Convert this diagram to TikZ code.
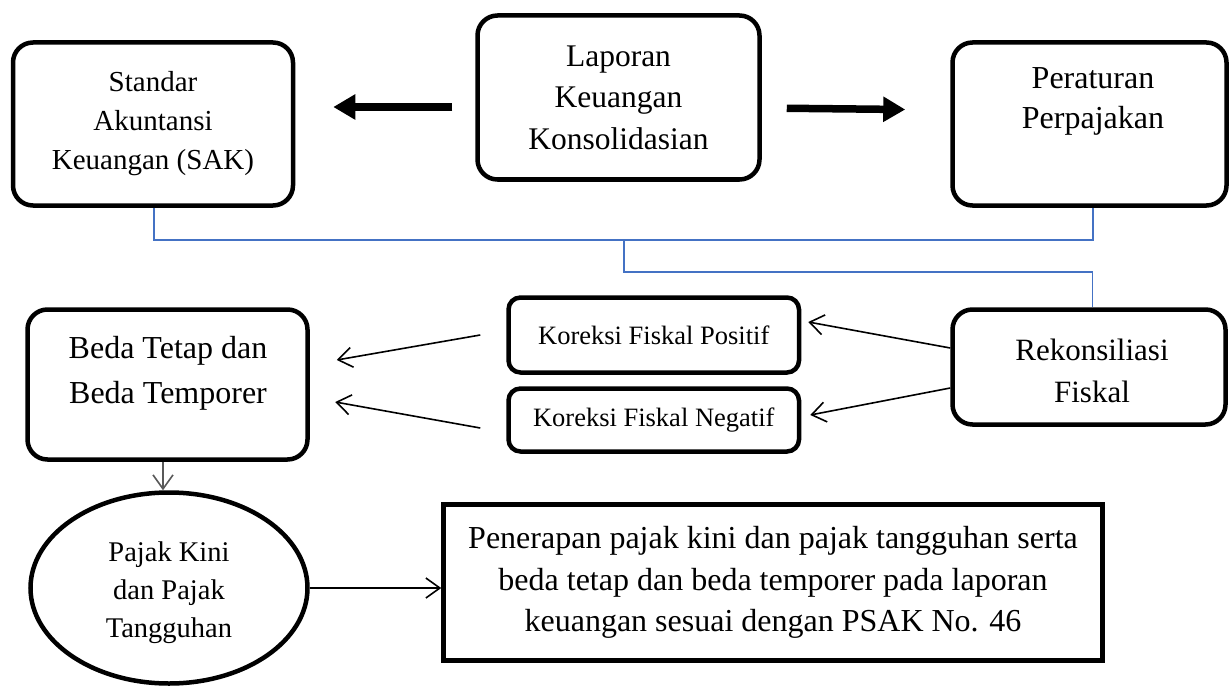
\documentclass[tikz,border=0pt]{standalone}
\usepackage{fontspec}
\setmainfont{Liberation Serif}
\usetikzlibrary{arrows.meta,shapes.geometric}
\definecolor{busB}{RGB}{68,114,196}

\begin{document}
\begin{tikzpicture}[x=1pt,y=-1pt,
  box/.style={draw,line width=4.5pt,rounded corners=20pt,inner sep=0pt,align=center},
  txt/.style={align=center,inner sep=0pt},
  bigarr/.style={line width=7.5pt,-{Triangle[length=22pt,width=24pt]}},
  thinarr/.style={line width=1.6pt,-{Straight Barb[length=14pt,width=20pt]}},
  bus/.style={busB,line width=1.8pt}]
\useasboundingbox (0,0) rectangle (1230,687);
% top row
\node[box,minimum width=280pt,minimum height=163pt,font=\fontsize{29}{39}\selectfont] (sak) at (153,124) {Standar\\Akuntansi\\Keuangan (SAK)};
\node[box,minimum width=282pt,minimum height=164pt,font=\fontsize{31.5}{41.5}\selectfont] (laporan) at (618.5,97.5) {Laporan\\Keuangan\\Konsolidasian};
\node[box,minimum width=274pt,minimum height=163pt] (peraturan) at (1089.5,124) {};
\node[txt,font=\fontsize{32}{40}\selectfont] (peraturanT) at (1093,101) {Peraturan\\Perpajakan};
\draw[bigarr,shorten <=23pt,shorten >=38pt] ([yshift=-9.5pt]laporan.west) -- ([yshift=17pt]sak.east);
\draw[bigarr,shorten <=25pt,shorten >=45pt] ([yshift=-10.5pt]laporan.east) -- ([yshift=14pt]peraturan.west);
% blue joins
\coordinate (jn) at (624,240);
\coordinate (jn2) at (624,272);
\draw[bus] ([xshift=1pt]sak.south) |- ([xshift=3.5pt]peraturan.south |- jn) -- ([xshift=3.5pt]peraturan.south);
% middle row
\node[box,minimum width=273pt,minimum height=115pt] (rekon) at (1089,367) {};
\node[txt,font=\fontsize{31}{42}\selectfont] (rekonT) at (1092,370.5) {Rekonsiliasi\\Fiskal};
\draw[bus] (jn) -- (jn2) -| ([xshift=3.5pt]rekon.north);
\node[box,rounded corners=12pt,minimum width=290.5pt,minimum height=75pt,font=\fontsize{26.5}{32}\selectfont] (kpos) at (653.75,335) {Koreksi Fiskal Positif};
\node[box,rounded corners=12pt,minimum width=290.5pt,minimum height=63pt,font=\fontsize{26.5}{32}\selectfont] (kneg) at (653.75,420) {Koreksi Fiskal Negatif};
\node[box,minimum width=280pt,minimum height=150pt] (beda) at (167.5,384.5) {};
\node[txt,font=\fontsize{32}{45}\selectfont] (bedaT) at (168,373) {Beda Tetap dan\\Beda Temporer};
\draw[thinarr] ([yshift=19pt]rekon.west) -- ([xshift=7pt,yshift=13pt]kpos.east);
\draw[thinarr] ([yshift=-21pt]rekon.west) -- ([xshift=9pt,yshift=5pt]kneg.east);
\draw[thinarr] ([xshift=-26pt]kpos.west) -- ([xshift=27pt,yshift=24.5pt]beda.east);
\draw[thinarr] ([xshift=-26pt,yshift=-8pt]kneg.west) -- ([xshift=25.5pt,yshift=-17.5pt]beda.east);
% bottom row
\node[ellipse,draw,line width=4.5pt,inner sep=0pt,minimum width=277pt,minimum height=191pt] (pajak) at (169,588) {};
\node[txt,font=\fontsize{28.5}{38}\selectfont] (pajakT) at (169,593) {Pajak Kini\\dan Pajak\\Tangguhan};
\node[draw,line width=4.5pt,inner sep=0pt,align=center,minimum width=659pt,minimum height=156pt,font=\fontsize{32}{41.5}\selectfont] (penerapan) at (773,582.5) {Penerapan pajak kini dan pajak tangguhan serta\\beda tetap dan beda temporer pada laporan\\keuangan sesuai dengan PSAK No. 46};
\draw[thinarr,black!65] ([xshift=-4.5pt]beda.south) -- ([xshift=-6pt]pajak.north);
\draw[thinarr] (pajak.east) -- (pajak.east -| penerapan.west);
\end{tikzpicture}
\end{document}
